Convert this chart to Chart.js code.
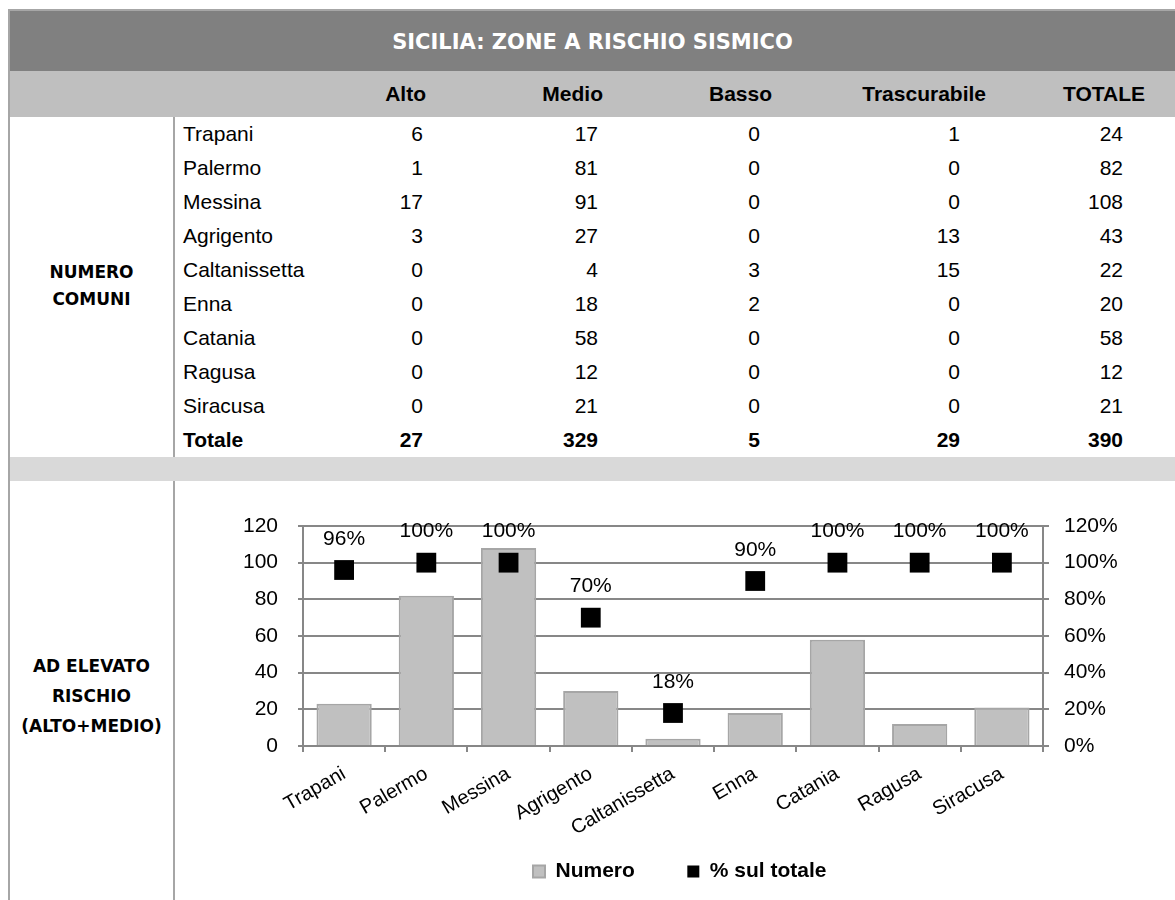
<!DOCTYPE html>
<html lang="it">
<head>
<meta charset="utf-8">
<title>Sicilia: zone a rischio sismico</title>
<script src="https://cdn.jsdelivr.net/npm/chart.js@4.4.1/dist/chart.umd.min.js"></script>
<style>
  html, body { margin: 0; padding: 0; background: #fff; overflow: hidden; }
  body { width: 1175px; height: 900px; position: relative; font-family: "Liberation Sans", Arial, sans-serif; color: #000; }
  .bordo-sx { position: absolute; left: 8px; top: 9px; width: 2px; height: 891px; background: #a6a6a6; }
  .bordo-top { position: absolute; left: 8px; top: 9px; width: 1167px; height: 2px; background: #a6a6a6; }
  .titolo { position: absolute; left: 10px; top: 11px; width: 1165px; height: 60px; background: #808080; color: #fff;
            font: bold 21px "DejaVu Sans"; line-height: 62px; text-align: center; }
  .intestazione { position: absolute; left: 10px; top: 71px; width: 1165px; height: 46px; background: #bfbfbf; }
  .sep { position: absolute; left: 173px; width: 2px; background: #a6a6a6; }
  .fascia { position: absolute; left: 10px; top: 457px; width: 1165px; height: 24px; background: #d9d9d9; }
  .etichetta { position: absolute; left: 10px; width: 163px; text-align: center; font: bold 17px "DejaVu Sans"; }
  #tabella { position: absolute; left: 175px; top: 71px; border-collapse: collapse; table-layout: fixed; font-size: 21px; }
  #tabella th, #tabella td { padding: 0; white-space: nowrap; text-align: right; }
  #tabella th { height: 46px; font-weight: bold; }
  #tabella td { height: 34px; }
  #tabella td:first-child { text-align: left; padding-left: 8px; }
  #tabella tr.tot td { font-weight: bold; }
  #tabella th:nth-child(2) { padding-right: 14px; }  #tabella td:nth-child(2) { padding-right: 17px; }
  #tabella th:nth-child(3) { padding-right: 17px; }  #tabella td:nth-child(3) { padding-right: 22px; }
  #tabella th:nth-child(4) { padding-right: 28px; }  #tabella td:nth-child(4) { padding-right: 40px; }
  #tabella th:nth-child(5) { padding-right: 14px; }  #tabella td:nth-child(5) { padding-right: 40px; }
  #tabella th:nth-child(6) { padding-right: 30px; }  #tabella td:nth-child(6) { padding-right: 52px; }
  #grafico { position: absolute; left: 173px; top: 481px; }
</style>
</head>
<body>
<div class="bordo-top"></div>
<div class="bordo-sx"></div>
<div class="titolo">SICILIA: ZONE A RISCHIO SISMICO</div>
<div class="intestazione"></div>
<div class="sep" style="top:117px;height:340px"></div>
<div class="sep" style="top:481px;height:419px"></div>
<div class="fascia"></div>
<div class="etichetta" style="top:259px;line-height:27px">NUMERO<br>COMUNI</div>
<div class="etichetta" style="top:651px;line-height:30px">AD ELEVATO<br>RISCHIO<br>(ALTO+MEDIO)</div>

<table id="tabella">
  <colgroup>
    <col style="width:145px"><col style="width:120px"><col style="width:180px">
    <col style="width:180px"><col style="width:200px"><col style="width:175px">
  </colgroup>
  <thead><tr></tr></thead>
  <tbody></tbody>
</table>

<canvas id="grafico" width="1002" height="419"></canvas>

<script>
// tabella: numero comuni per zona
const province = ['Trapani', 'Palermo', 'Messina', 'Agrigento', 'Caltanissetta', 'Enna', 'Catania', 'Ragusa', 'Siracusa'];
const colonne = ['Alto', 'Medio', 'Basso', 'Trascurabile', 'TOTALE'];
const alto = [6, 1, 17, 3, 0, 0, 0, 0, 0];
const medio = [17, 81, 91, 27, 4, 18, 58, 12, 21];
const basso = [0, 0, 0, 0, 3, 2, 0, 0, 0];
const trascurabile = [1, 0, 0, 13, 15, 0, 0, 0, 0];
const totale = [24, 82, 108, 43, 22, 20, 58, 12, 21];
const totaliColonne = [27, 329, 5, 29, 390];

// grafico: comuni ad elevato rischio (alto+medio)
const numero = [23, 82, 108, 30, 4, 18, 58, 12, 21];
const percentuale = [96, 100, 100, 70, 18, 90, 100, 100, 100];

const headRow = document.querySelector('#tabella thead tr');
['', ...colonne].forEach(c => {
  const th = document.createElement('th');
  th.textContent = c;
  headRow.appendChild(th);
});

const tbody = document.querySelector('#tabella tbody');
function addRow(cells, cls) {
  const tr = document.createElement('tr');
  if (cls) tr.className = cls;
  cells.forEach(v => {
    const td = document.createElement('td');
    td.textContent = v;
    tr.appendChild(td);
  });
  tbody.appendChild(tr);
}
province.forEach((p, i) => addRow([p, alto[i], medio[i], basso[i], trascurabile[i], totale[i]]));
addRow(['Totale', ...totaliColonne], 'tot');

// etichette percentuali sopra i quadrati
const etichettePunti = {
  id: 'etichettePunti',
  afterDatasetsDraw(chart) {
    const ctx = chart.ctx;
    const meta = chart.getDatasetMeta(1);
    ctx.save();
    ctx.font = '21px "Liberation Sans", Arial, sans-serif';
    ctx.fillStyle = '#000';
    ctx.textAlign = 'center';
    ctx.textBaseline = 'middle';
    meta.data.forEach((p, i) => ctx.fillText(percentuale[i] + '%', p.x, p.y - 31));
    ctx.restore();
  }
};

Chart.defaults.font.family = '"Liberation Sans", Arial, sans-serif';
Chart.defaults.font.size = 21;
Chart.defaults.color = '#000';

const grigio = '#878787';
const ctx = document.getElementById('grafico').getContext('2d');
new Chart(ctx, {
  data: {
    labels: province,
    datasets: [
      {
        type: 'bar',
        label: 'Numero',
        data: numero,
        yAxisID: 'y',
        backgroundColor: '#c0c0c0',
        borderColor: '#a6a6a6',
        borderWidth: 2,
        barPercentage: 0.672,
        categoryPercentage: 1,
        order: 2
      },
      {
        type: 'line',
        label: '% sul totale',
        data: percentuale,
        yAxisID: 'y1',
        showLine: false,
        pointStyle: 'rect',
        pointRadius: 14,
        pointHoverRadius: 14,
        pointBorderWidth: 0,
        borderWidth: 0,
        backgroundColor: '#000',
        borderColor: '#000',
        order: 1
      }
    ]
  },
  options: {
    responsive: false,
    animation: false,
    layout: { padding: { top: 45, left: 11.5, right: 0, bottom: 8 } },
    plugins: {
      legend: {
        position: 'bottom',
        labels: {
          boxWidth: 12, boxHeight: 12, padding: 15,
          font: { weight: 'bold', size: 21 },
          // bar first, then an empty slot to widen the gap like Excel does
          generateLabels(chart) {
            const items = Chart.defaults.plugins.legend.labels.generateLabels(chart)
              .sort((a, b) => a.datasetIndex - b.datasetIndex);
            const vuoto = { text: '', fillStyle: 'rgba(0,0,0,0)', strokeStyle: 'rgba(0,0,0,0)', lineWidth: 0, hidden: false };
            return [items[0], vuoto, items[1]];
          }
        }
      },
      tooltip: { enabled: false }
    },
    scales: {
      x: {
        grid: { offset: true, drawOnChartArea: false, tickLength: 6, color: grigio, lineWidth: 2 },
        border: { color: grigio, width: 2 },
        ticks: { maxRotation: 30, minRotation: 30, autoSkip: false, padding: 10, font: { size: 20 } },
        afterFit(s) { s.height = 100; }
      },
      y: {
        position: 'left',
        min: 0, max: 120,
        ticks: { stepSize: 20, padding: 20 },
        grid: { color: grigio, lineWidth: 2, tickLength: 5 },
        border: { color: grigio, width: 2 },
        afterFit(s) { s.width = 118.5; }
      },
      y1: {
        position: 'right',
        min: 0, max: 120,
        ticks: { stepSize: 20, padding: 15, callback: v => v + '%' },
        grid: { drawOnChartArea: false, color: grigio, lineWidth: 2, tickLength: 6 },
        border: { color: grigio, width: 2 },
        afterFit(s) { s.width = 132; }
      }
    }
  },
  plugins: [etichettePunti]
});
</script>
</body>
</html>
